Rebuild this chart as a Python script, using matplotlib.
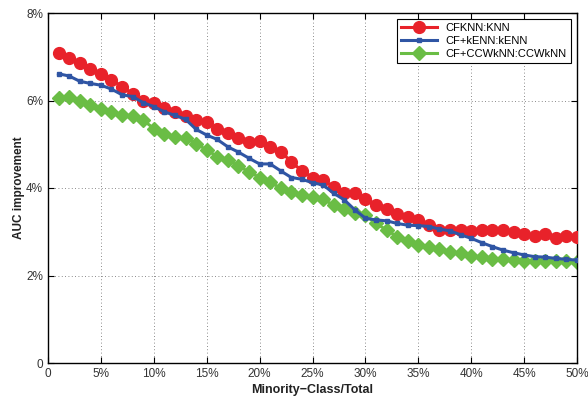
import matplotlib
matplotlib.use("Agg")
import matplotlib.pyplot as plt
from matplotlib.ticker import FuncFormatter

plt.rcParams['font.family'] = ['Liberation Sans', 'DejaVu Sans']

# minority class ratio in percent
ratio = list(range(1, 51))

cfknn = [7.08, 6.98, 6.85, 6.71, 6.61, 6.47, 6.32, 6.15, 5.99, 5.94,
         5.82, 5.74, 5.65, 5.55, 5.50, 5.36, 5.25, 5.15, 5.06, 5.07,
         4.94, 4.83, 4.60, 4.39, 4.24, 4.18, 4.03, 3.88, 3.88, 3.74,
         3.61, 3.51, 3.41, 3.33, 3.27, 3.15, 3.05, 3.05, 3.04, 3.02,
         3.04, 3.05, 3.04, 3.00, 2.96, 2.91, 2.95, 2.85, 2.90, 2.87]

cf_kenn = [6.61, 6.56, 6.44, 6.39, 6.35, 6.26, 6.13, 6.09, 5.95, 5.86,
           5.74, 5.66, 5.57, 5.34, 5.21, 5.11, 4.94, 4.82, 4.68, 4.55,
           4.55, 4.39, 4.24, 4.20, 4.12, 4.07, 3.88, 3.73, 3.50, 3.31,
           3.27, 3.25, 3.19, 3.15, 3.14, 3.12, 3.06, 3.02, 2.93, 2.85,
           2.75, 2.66, 2.58, 2.52, 2.47, 2.43, 2.42, 2.39, 2.37, 2.35]

cf_ccwknn = [6.05, 6.07, 5.99, 5.90, 5.80, 5.74, 5.67, 5.65, 5.55, 5.36,
             5.23, 5.16, 5.15, 5.01, 4.87, 4.72, 4.64, 4.50, 4.37, 4.24,
             4.14, 3.99, 3.92, 3.85, 3.79, 3.74, 3.61, 3.51, 3.44, 3.38,
             3.19, 3.04, 2.89, 2.80, 2.69, 2.65, 2.60, 2.54, 2.51, 2.45,
             2.42, 2.37, 2.37, 2.35, 2.34, 2.34, 2.33, 2.33, 2.33, 2.32]

fig = plt.figure(figsize=(5.88, 3.98), dpi=100)
ax = fig.add_axes([48 / 588, 1 - 363 / 398, 529 / 588, 350 / 398])

ax.plot(ratio, cfknn, color='#e8222a', lw=2.2, marker='o', ms=8.5, label='CFKNN:KNN', zorder=3)
ax.plot(ratio, cf_kenn, color='#2f55a4', lw=2.2, marker='s', ms=3.5, label='CF+kENN:kENN', zorder=4)
ax.plot(ratio, cf_ccwknn, color='#6abd45', lw=2.2, marker='D', ms=7, label='CF+CCWkNN:CCWkNN', zorder=2)

ax.set_xlim(0, 50)
ax.set_ylim(0, 8)
ax.set_xticks(range(0, 51, 5))
ax.set_yticks(range(0, 9, 2))
ax.xaxis.set_major_formatter(FuncFormatter(lambda v, p: '0' if v == 0 else '%d%%' % v))
ax.yaxis.set_major_formatter(FuncFormatter(lambda v, p: '0' if v == 0 else '%d%%' % v))
ax.tick_params(direction='in', top=True, right=True, labelsize=8.5, length=4, width=0.8,
               labelcolor='#333333')
ax.grid(True, linestyle=(0, (1, 3)), color='#666666', lw=0.6)
for s in ax.spines.values():
    s.set_linewidth(1.0)

ax.set_xlabel('Minority\u2212Class/Total', fontsize=9, fontweight='bold', labelpad=3,
              color='#222222')
ax.set_ylabel('AUC improvement', fontsize=8.5, fontweight='bold', labelpad=1,
              color='#222222')

leg = ax.legend(loc='upper right', fontsize=8, fancybox=False, edgecolor='black',
                framealpha=1, handlelength=3.2, borderaxespad=0.5, labelspacing=0.25,
                borderpad=0.4)
leg.get_frame().set_linewidth(0.8)

fig.savefig('out.png', dpi=100)
